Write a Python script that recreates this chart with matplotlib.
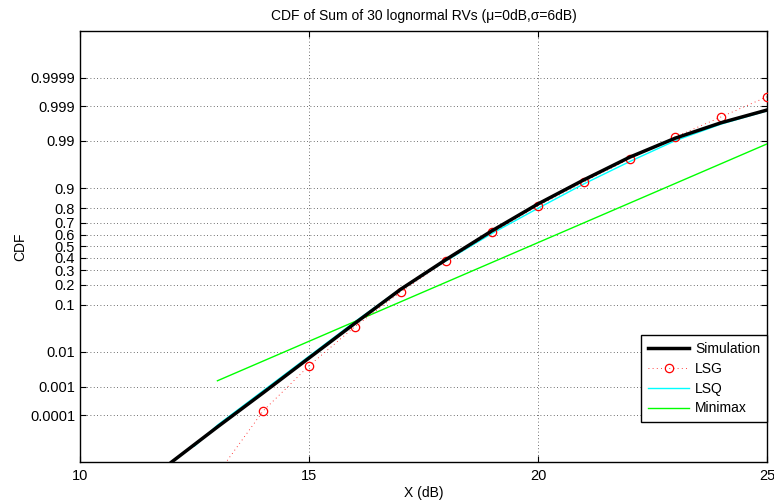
import numpy as np
import matplotlib
matplotlib.use("Agg")
import matplotlib.pyplot as plt
from statistics import NormalDist

plt.rcParams['font.family'] = ['Liberation Sans', 'DejaVu Sans']
plt.rcParams['font.size'] = 10

# sample points (dB) and CDF values
x_sim = [12, 13, 14, 15, 16, 17, 18, 19, 20, 21, 22, 23, 24, 25]
cdf_sim = [1.0e-6, 3.44e-5, 6.28e-4, 6.95e-3, 0.0450, 0.1723, 0.3886,
           0.6365, 0.8259, 0.9290, 0.9755, 0.99158, 0.99683, 0.99869]

x_lsg = [13, 14, 15, 16, 17, 18, 19, 20, 21, 22, 23, 24, 25]
cdf_lsg = [2.6e-7, 1.45e-4, 4.26e-3, 0.0384, 0.1577, 0.377, 0.623,
           0.8125, 0.9227, 0.9733, 0.99217, 0.99787, 0.99952]

x_lsq = [12.5, 13, 14, 15, 16, 17, 18, 19, 20, 21, 22, 23, 24, 25]
cdf_lsq = [5.4e-6, 4.07e-5, 7.37e-4, 7.76e-3, 0.0485, 0.1762, 0.3771,
           0.6145, 0.8004, 0.9161, 0.9694, 0.99023, 0.99653, 0.99861]

x_mm = [13, 25]
cdf_mm = [0.00153, 0.98815]

ytick_vals = [0.0001, 0.001, 0.01, 0.1, 0.2, 0.3, 0.4, 0.5, 0.6, 0.7, 0.8,
              0.9, 0.99, 0.999, 0.9999]
ytick_labels = ['0.0001', '0.001', '0.01', '0.1', '0.2', '0.3', '0.4', '0.5',
                '0.6', '0.7', '0.8', '0.9', '0.99', '0.999', '0.9999']

_nd = NormalDist()


def _probit(p):
    p = np.asarray(p, dtype=float)
    out = np.full(p.shape, np.nan)
    ok = np.isfinite(p)
    q = np.clip(p[ok], 1e-15, 1 - 1e-15)
    out[ok] = [_nd.inv_cdf(v) for v in q]
    return out


def _cdf(z):
    z = np.asarray(z, dtype=float)
    out = np.full(z.shape, np.nan)
    ok = np.isfinite(z)
    out[ok] = [_nd.cdf(v) for v in z[ok]]
    return out


fig = plt.figure(figsize=(7.74, 5.03), dpi=100)
ax = fig.add_axes([0.1034, 0.0815, 0.8876, 0.857])

ax.plot(x_lsq, cdf_lsq, color='#00ffff', lw=1.0, label='LSQ', zorder=3)
ax.plot(x_mm, cdf_mm, color='#00ff00', lw=1.0, label='Minimax', zorder=3)
ax.plot(x_lsg, cdf_lsg, color='red', ls=(0, (1, 4)), lw=0.6, marker='o',
        ms=6, mfc='none', mec='red', mew=0.9, label='LSG', zorder=4)
ax.plot(x_sim, cdf_sim, color='black', lw=2.5, label='Simulation', zorder=5)

ax.set_yscale('function', functions=(_probit, _cdf))
ax.set_xlim(10, 25)
ax.set_ylim(1e-6, 1 - 1e-6)
ax.set_xticks([10, 15, 20, 25])
ax.set_yticks(ytick_vals)
ax.set_yticklabels(ytick_labels)
ax.minorticks_off()

ax.grid(True, which='major', color='0.25', ls=(0, (1, 3)), lw=0.6)
ax.tick_params(direction='in', top=True, right=True, length=4, width=0.8,
               labelsize=10.5)
ax.tick_params(axis='x', pad=5)
for s in ax.spines.values():
    s.set_linewidth(1.0)

ax.set_title('CDF of Sum of 30 lognormal RVs (\u03bc=0dB,\u03c3=6dB)',
             fontsize=10, pad=8)
ax.set_xlabel('X (dB)', labelpad=2)
ax.set_ylabel('CDF', labelpad=2)

h, l = ax.get_legend_handles_labels()
order = [l.index(n) for n in ['Simulation', 'LSG', 'LSQ', 'Minimax']]
leg = ax.legend([h[i] for i in order], [l[i] for i in order],
                loc='lower right', bbox_to_anchor=(1.0, 0.092),
                borderaxespad=0, fancybox=False, framealpha=1,
                edgecolor='black', handlelength=3.0, labelspacing=0.42,
                borderpad=0.5, handletextpad=0.4, fontsize=10)
leg.get_frame().set_linewidth(1.0)

fig.savefig('out.png', dpi=100)
